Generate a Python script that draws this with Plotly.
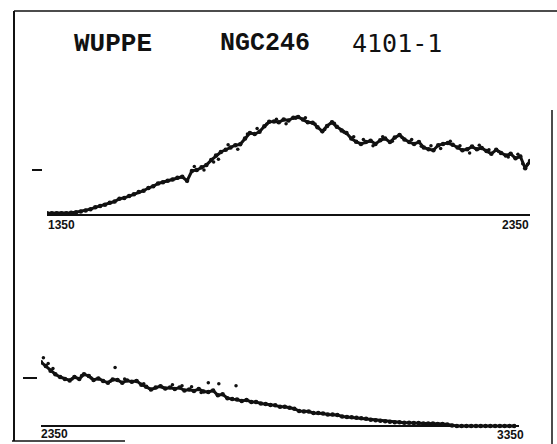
import numpy as np
import plotly.graph_objects as go

# ---- spectrum data (flux in units of the marked reference level) ----
# Channel 1: 1350-2350 A, 10 A sampling
wl_short = np.arange(1350, 2351, 10)
flux_short = [
    0.04, 0.04, 0.04, 0.04, 0.04, 0.05, 0.06, 0.08, 0.10, 0.13,
    0.17, 0.20, 0.23, 0.27, 0.30, 0.36, 0.38, 0.42, 0.46, 0.51,
    0.54, 0.60, 0.64, 0.70, 0.73, 0.76, 0.79, 0.83, 0.85, 0.76,
    0.98, 1.00, 1.06, 1.11, 1.22, 1.32, 1.40, 1.45, 1.50, 1.55,
    1.57, 1.70, 1.82, 1.80, 1.85, 1.97, 2.07, 2.08, 2.06, 2.12,
    2.10, 2.16, 2.18, 2.12, 2.06, 2.05, 1.95, 1.86, 1.98, 2.06,
    1.96, 1.88, 1.82, 1.70, 1.63, 1.58, 1.62, 1.65, 1.58, 1.66,
    1.70, 1.62, 1.72, 1.78, 1.68, 1.62, 1.58, 1.62, 1.50, 1.46,
    1.44, 1.55, 1.58, 1.60, 1.56, 1.50, 1.44, 1.46, 1.52, 1.46,
    1.49, 1.42, 1.36, 1.45, 1.38, 1.32, 1.36, 1.26, 1.30, 1.04,
    1.20,
]
# interleaved samples of channel 1
wl_short_b = [1655, 1675, 1695, 1705, 1725, 1745, 1765, 1785, 1805, 1825,
              1845, 1865, 1885, 1905, 1925, 1945, 1965, 1985, 2005, 2025,
              2045, 2065, 2085, 2105, 2125, 2145, 2165, 2185, 2205, 2225,
              2245, 2265, 2285, 2305, 2325, 2335, 2345]
flux_short_b = [1.08, 1.00, 1.18, 1.24, 1.56, 1.46, 1.80, 1.92, 2.02, 2.13,
                2.03, 2.15, 2.16, 2.02, 1.90, 2.04, 1.84, 1.74, 1.68, 1.54,
                1.74, 1.64, 1.72, 1.68, 1.53, 1.54, 1.48, 1.64, 1.54, 1.38,
                1.55, 1.45, 1.41, 1.29, 1.35, 1.14, 1.13]

# Channel 2: 2350-3340 A, 10 A sampling
wl_long = np.arange(2350, 3341, 10)
flux_long = [
    1.33, 1.25, 1.15, 1.08, 1.02, 0.98, 0.95, 1.02, 0.98, 1.08,
    1.04, 0.96, 0.99, 0.94, 0.90, 0.97, 0.96, 0.90, 0.95, 0.92,
    0.94, 0.86, 0.82, 0.76, 0.80, 0.83, 0.78, 0.80, 0.77, 0.80,
    0.74, 0.76, 0.73, 0.77, 0.72, 0.71, 0.74, 0.64, 0.66, 0.58,
    0.56, 0.55, 0.52, 0.54, 0.50, 0.50, 0.47, 0.46, 0.44, 0.43,
    0.40, 0.40, 0.38, 0.36, 0.31, 0.30, 0.30, 0.27, 0.27, 0.26,
    0.24, 0.24, 0.23, 0.20, 0.19, 0.18, 0.17, 0.16, 0.15, 0.13,
    0.12, 0.11, 0.10, 0.09, 0.08, 0.08, 0.07, 0.07, 0.06, 0.06,
    0.05, 0.05, 0.05, 0.04, 0.04, 0.03, 0.01, 0.00, 0.00, 0.00,
    0.00, 0.00, 0.00, 0.00, 0.00, 0.00, 0.00, 0.00, 0.00, 0.00,
]
wl_long_b = [2355, 2365, 2375, 2415, 2435, 2455, 2495, 2505, 2525, 2565,
             2605, 2625, 2645, 2665, 2685, 2700, 2722, 2758]
flux_long_b = [1.42, 1.30, 1.20, 0.98, 1.05, 1.00, 0.93, 1.22, 0.98, 0.88,
               0.80, 0.86, 0.84, 0.82, 0.70, 0.90, 0.88, 0.84]

RANGE_SHORT = [1350, 2350]
RANGE_LONG = [2350, 3350]
REF_LEVEL = 1.0
HEADER = ["WUPPE", "NGC246", "4101-1"]

W, H = 557, 444


def px(x):
    return x / W


def py(y):
    return 1 - y / H


ink = "#111111"
fig = go.Figure()

for xs, ys, ax in [(wl_short, flux_short, "x"), (wl_long, flux_long, "x2")]:
    fig.add_trace(go.Scatter(
        x=xs, y=ys, xaxis=ax, yaxis=ax.replace("x", "y"),
        mode="lines+markers",
        line=dict(color=ink, width=3),
        marker=dict(color=ink, size=4.5),
        showlegend=False, hoverinfo="skip",
    ))
for xs, ys, ax in [(wl_short_b, flux_short_b, "x"), (wl_long_b, flux_long_b, "x2")]:
    fig.add_trace(go.Scatter(
        x=xs, y=ys, xaxis=ax, yaxis=ax.replace("x", "y"),
        mode="markers",
        marker=dict(color=ink, size=3.5),
        showlegend=False, hoverinfo="skip",
    ))

# panel geometry: zero level (px), px per flux unit
top_zero, top_scale = 215, 45
bot_zero, bot_scale = 426, 48
top_yr = [-0.15, 2.45]
bot_yr = [-0.15, 1.6]

axis_common = dict(showgrid=False, showticklabels=False, ticks="")

fig.update_layout(
    width=W, height=H,
    margin=dict(l=0, r=0, t=0, b=0),
    paper_bgcolor="white", plot_bgcolor="rgba(0,0,0,0)",
    xaxis=dict(domain=[px(47), px(530)], range=RANGE_SHORT, zeroline=False,
               **axis_common, anchor="y"),
    yaxis=dict(domain=[py(top_zero - top_yr[0] * top_scale),
                       py(top_zero - top_yr[1] * top_scale)],
               range=top_yr, showgrid=False, zeroline=True,
               zerolinecolor=ink, zerolinewidth=1.6,
               tickvals=[REF_LEVEL], ticks="outside", ticklen=10,
               tickwidth=2, tickcolor=ink, showticklabels=False,
               anchor="free", position=px(42)),
    xaxis2=dict(domain=[px(41), px(519)], range=RANGE_LONG, zeroline=False,
                **axis_common, anchor="y2"),
    yaxis2=dict(domain=[py(bot_zero - bot_yr[0] * bot_scale),
                        py(bot_zero - bot_yr[1] * bot_scale)],
                range=bot_yr, showgrid=False, zeroline=True,
                zerolinecolor=ink, zerolinewidth=1.6,
                tickvals=[REF_LEVEL], ticks="outside", ticklen=14,
                tickwidth=2, tickcolor=ink, showticklabels=False,
                anchor="free", position=px(37)),
)

# header line
header_fonts = [
    dict(family="Liberation Mono", size=26, color=ink, weight="bold"),
    dict(family="Liberation Mono", size=25, color=ink, weight="bold"),
    dict(family="DejaVu Sans Mono", size=25, color=ink),
]
for text, x0, f in zip(HEADER, [72, 218, 350], header_fonts):
    fig.add_annotation(text=text, x=px(x0), y=py(44), xref="paper", yref="paper",
                       xanchor="left", yanchor="middle", showarrow=False, font=f)

# wavelength limits under each channel
lab_font = dict(family="Liberation Sans", size=12, color=ink, weight="bold")
for xv, ax, anchor, ypos, shift in [
    (RANGE_SHORT[0], "x", "left", 225, 0),
    (RANGE_SHORT[1], "x", "right", 225, 0),
    (RANGE_LONG[0], "x2", "left", 434, -1),
    (RANGE_LONG[1], "x2", "right", 435, 6),
]:
    fig.add_annotation(text=str(xv), x=xv, xref=ax, y=py(ypos), yref="paper",
                       xanchor=anchor, yanchor="middle", showarrow=False,
                       xshift=shift, font=lab_font, borderpad=0)

# frame around the plot sheet
frame = [
    (14, 11, 14, 441, 2),
    (14, 11, 557, 11, 1.5),
    (552, 110, 552, 444, 1.5),
    (12, 441, 125, 441, 1.5),
]
for x0, y0, x1, y1, w in frame:
    fig.add_shape(type="line", xref="paper", yref="paper",
                  x0=px(x0), y0=py(y0), x1=px(x1), y1=py(y1),
                  line=dict(color=ink, width=w))

fig.write_html("out.html")
